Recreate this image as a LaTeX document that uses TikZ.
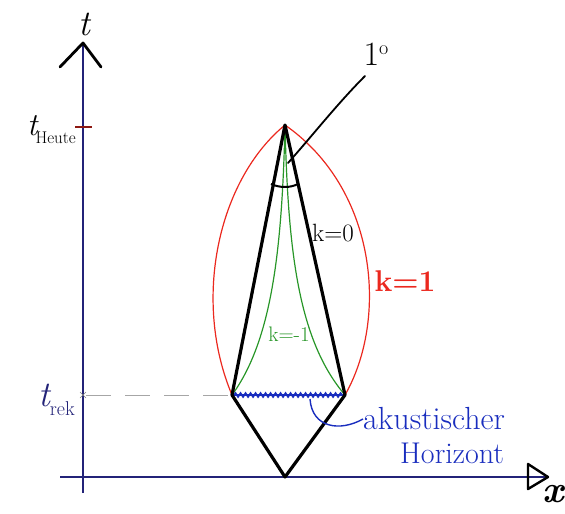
\documentclass[tikz,border=0pt]{standalone}
\usetikzlibrary{decorations.pathmorphing}
\definecolor{axisblue}{RGB}{35,35,120}
\definecolor{hblue}{RGB}{25,45,190}
\definecolor{kred}{RGB}{235,40,30}
\definecolor{kgreen}{RGB}{40,150,40}
\begin{document}
\begin{tikzpicture}[x=1pt,y=-1pt,
  axisline/.style={draw=axisblue,line width=1.4pt},
  kite/.style={draw=black,line width=3.2pt,line join=round},
  redc/.style={draw=kred,line width=1.2pt},
  greenc/.style={draw=kgreen,line width=1.2pt},
  lbl/.style={inner sep=0pt}]
\useasboundingbox (0,0) rectangle (565,514);
% points
\coordinate (apex) at (285,125);
\coordinate (L) at (232,395);
\coordinate (R) at (345,395);
\coordinate (B) at (285,477);
\coordinate (tbot) at (83,493);
\coordinate (ttop) at (83,43);
\coordinate (xl) at (60,477);
\coordinate (xr) at (548,477);
% axes
\draw[axisline] (tbot) -- (ttop);
\draw[axisline] (xl) -- (xr);
\draw[black,line width=2.8pt,line cap=round,line join=round] (60,67) -- (ttop) -- (101,67);
\draw[black,line width=2.4pt,line join=round] (528,464) -- (xr) -- (528,489) -- cycle;
\node[lbl,font=\fontsize{36}{36}\selectfont\itshape] (tlab) at (84,24) {t};
\node[lbl,font=\fontsize{38}{38}\selectfont\bfseries\itshape] (xlab) at (553,494) {x};
% tick t_Heute
\draw[draw=kred!60!black,line width=1.6pt] (75,127) -- (92,127);
\node[lbl,anchor=east] (theute) at (76,130) {\fontsize{32}{32}\selectfont\itshape t\kern-2pt\raisebox{-8pt}{\fontsize{17}{17}\selectfont\upshape Heute}};
% t_rek
\node[lbl,anchor=east,text=axisblue] (trek) at (75,400) {\fontsize{36}{36}\selectfont\itshape t\raisebox{-9pt}{\fontsize{20}{20}\selectfont\upshape rek}};
\draw[gray,line width=0.6pt] (80,392) -- (86,398) (80,398) -- (86,392);
\draw[gray!70,line width=1pt,dash pattern=on 25pt off 14pt] (86,395) -- (L);
% red curve k=1
\draw[redc] (apex) .. controls (218,180) and (192,300) .. (L);
\draw[redc] (apex) .. controls (378,190) and (388,320) .. (R);
% green curves k=-1
\draw[greenc] (apex) .. controls (282,250) and (272,340) .. (L);
\draw[greenc] (apex) .. controls (288,250) and (298,340) .. (R);
% blue wavy horizon
\draw[hblue,line width=1.8pt,decorate,decoration={snake,amplitude=1.8pt,segment length=5pt}] ([xshift=2pt]L) -- ([xshift=-2pt]R);
\draw[hblue,line width=2pt] (L) -- (R);
% black kite
\draw[kite] (apex) -- (L) -- (B) -- (R) -- cycle;
% angle arc
\draw[black,line width=2pt] (271,184) .. controls (280,188) and (290,188) .. (298,184);
% 1 degree pointer
\coordinate (p1) at (288,163);
\coordinate (p2) at (365,76);
\draw[black,line width=1.8pt,line cap=round] (p1) .. controls (312,136) and (338,103) .. (p2);
\node[lbl,font=\fontsize{34}{34}\selectfont] (onedeg) at (376,54) {1\raisebox{11pt}{\fontsize{20}{20}\selectfont o}};
% labels
\node[lbl,font=\fontsize{25}{25}\selectfont] (k0) at (333,233) {k=0};
\node[lbl,font=\fontsize{21}{21}\selectfont,text=kgreen] (km1) at (289,334) {k=-1};
\node[lbl,font=\fontsize{30}{30}\selectfont\bfseries,text=kred] (k1) at (405,281) {k=1};
% acoustic horizon
\node[lbl,anchor=west,font=\fontsize{32}{32}\selectfont,text=hblue] (akus) at (363,419) {akustischer};
\node[lbl,anchor=west,font=\fontsize{30}{30}\selectfont,text=hblue] (hor) at (400,453) {Horizont};
\draw[hblue,line width=1.4pt] (310,399) .. controls (312,428) and (340,432) .. (akus.west);
\end{tikzpicture}
\end{document}
